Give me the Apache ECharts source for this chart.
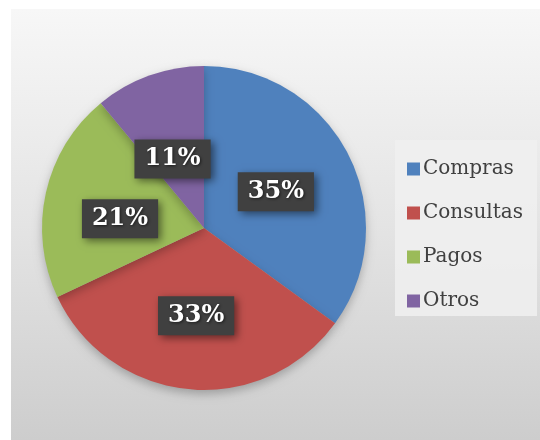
<!DOCTYPE html>
<html><head><meta charset="utf-8">
<script src="https://cdn.jsdelivr.net/npm/echarts@6/dist/echarts.min.js"></script>
<style>html,body{margin:0;padding:0;background:#fff}#c{width:540px;height:440px}</style>
</head><body><div id="c"></div>
<script>
const categories = ['Compras', 'Consultas', 'Pagos', 'Otros'];
const values = [35, 33, 21, 11];
const colors = ['#4F81BD', '#C0504D', '#9BBB59', '#8064A2'];

const labelNudge = [[-3, 2], [0, 4], [-2, 9], [-3, 10]];

const chart = echarts.init(document.getElementById('c'));
chart.setOption({
  animation: false,
  graphic: [
    { type: 'rect', z: -10, shape: { x: 11, y: 9, width: 529, height: 431 },
      style: { fill: new echarts.graphic.LinearGradient(0, 0, 0, 1, [
        { offset: 0, color: '#f7f7f7' }, { offset: 0.5, color: '#e4e4e4' }, { offset: 1, color: '#cdcdcd' }]) } },
    { type: 'rect', z: -9, shape: { x: 395, y: 140, width: 142, height: 176 },
      style: { fill: 'rgba(240,240,240,0.85)' } }
  ],
  legend: {
    orient: 'vertical', left: 402, top: 154, itemGap: 24,
    itemWidth: 13, itemHeight: 13, icon: 'rect',
    data: categories,
    textStyle: { fontFamily: 'DejaVu Serif', fontSize: 20, color: '#404040', padding: [0, 0, 0, -2] }
  },
  series: [{
    type: 'pie', center: [204, 228], radius: 162, startAngle: 90, clockwise: true,
    itemStyle: { shadowBlur: 10, shadowColor: 'rgba(0,0,0,0.25)', shadowOffsetY: 4 },
    label: {
      position: 'inside', formatter: '{c}%',
      fontFamily: 'DejaVu Serif', fontWeight: 'bold', fontSize: 24, color: '#fff',
      textShadowColor: 'rgba(0,0,0,0.6)', textShadowBlur: 3, textShadowOffsetX: 1, textShadowOffsetY: 1,
      backgroundColor: '#404040', padding: [9, 10, 6, 10],
      shadowColor: 'rgba(0,0,0,0.5)', shadowBlur: 8, shadowOffsetX: 3, shadowOffsetY: 3
    },
    labelLayout: function (p) {
      const n = labelNudge[p.dataIndex];
      return { dx: n[0], dy: n[1] };
    },
    labelLine: { show: false },
    emphasis: { disabled: true },
    data: categories.map((n, i) => ({ name: n, value: values[i], itemStyle: { color: colors[i] } }))
  }]
});
</script></body></html>
